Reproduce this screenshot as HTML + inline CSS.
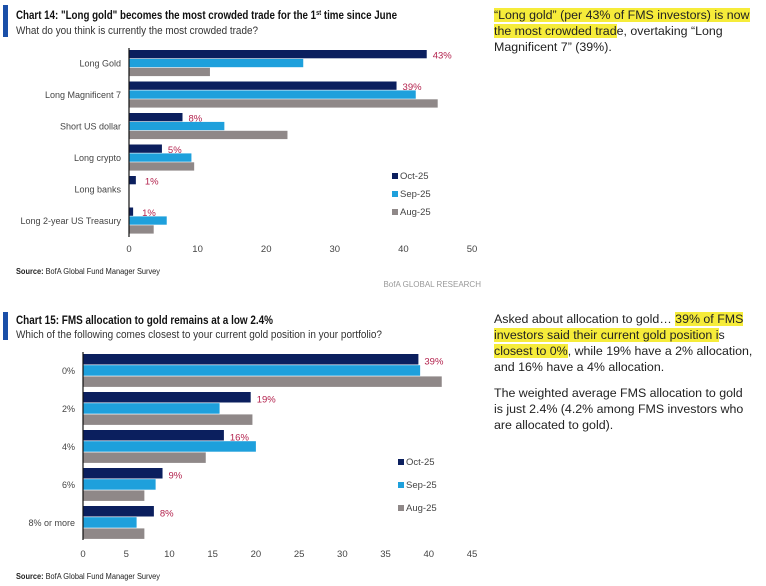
<!DOCTYPE html>
<html><head><meta charset="utf-8"><style>
body{margin:0;width:766px;height:586px;background:#fff;font-family:"Liberation Sans",sans-serif;overflow:hidden;position:relative}
.t{position:absolute;left:494px;width:262px;font-size:12.4px;line-height:16px;color:#222}
.t p{margin:0 0 10px 0}
.hl{background:#f6ec3a}
</style></head><body>
<svg id="svg" width="766" height="586" style="position:absolute;left:0;top:0">
<rect x="3" y="5" width="5" height="32" fill="#1a4fa8"/>
<text x="16" y="19" font-size="12" font-weight="bold" fill="#111" textLength="381" lengthAdjust="spacingAndGlyphs">Chart 14: "Long gold" becomes the most crowded trade for the 1<tspan font-size="7" dy="-4">st</tspan><tspan dy="4"> time since June</tspan></text>
<text x="16" y="34" font-size="11" fill="#333" textLength="242" lengthAdjust="spacingAndGlyphs">What do you think is currently the most crowded trade?</text>
<text x="16" y="274" font-size="8" fill="#222" textLength="144" lengthAdjust="spacingAndGlyphs"><tspan font-weight="bold">Source:</tspan> BofA Global Fund Manager Survey</text>
<text x="481" y="287" font-size="8" fill="#999" text-anchor="end">BofA GLOBAL RESEARCH</text>
<rect x="3" y="312" width="5" height="28" fill="#1a4fa8"/>
<text x="16" y="324" font-size="12" font-weight="bold" fill="#111" textLength="257" lengthAdjust="spacingAndGlyphs">Chart 15: FMS allocation to gold remains at a low 2.4%</text>
<text x="16" y="338" font-size="11" fill="#333" textLength="366" lengthAdjust="spacingAndGlyphs">Which of the following comes closest to your current gold position in your portfolio?</text>
<text x="16" y="579" font-size="8" fill="#222" textLength="144" lengthAdjust="spacingAndGlyphs"><tspan font-weight="bold">Source:</tspan> BofA Global Fund Manager Survey</text>
</svg>
<div class="t" style="top:7px"><p><span class="hl">“Long gold” (per 43% of FMS investors) is now the most crowded trad</span>e, overtaking “Long Magnificent 7” (39%).</p></div>
<div class="t" style="top:311px"><p>Asked about allocation to gold… <span class="hl">39% of FMS investors said their current gold position i</span>s <span class="hl">closest to 0%</span>, while 19% have a 2% allocation, and 16% have a 4% allocation.</p><p>The weighted average FMS allocation to gold<br>is just 2.4% (4.2% among FMS investors who are allocated to gold).</p></div>
<script>
const c14Cats=["Long Gold","Long Magnificent 7","Short US dollar","Long crypto","Long banks","Long 2-year US Treasury"];
const c14Oct=[43.4,39,7.8,4.8,1,0.6];
const c14Sep=[25.4,41.8,13.9,9.1,0,5.5];
const c14Aug=[11.8,45,23.1,9.5,0,3.6];
const c14Labels=["43%","39%","8%","5%","1%","1%"];
const c14Ticks=[0,10,20,30,40,50];
const c15Cats=["0%","2%","4%","6%","8% or more"];
const c15Oct=[38.8,19.4,16.3,9.2,8.2];
const c15Sep=[39,15.8,20,8.4,6.2];
const c15Aug=[41.5,19.6,14.2,7.1,7.1];
const c15Labels=["39%","19%","16%","9%","8%"];
const c15Ticks=[0,5,10,15,20,25,30,35,40,45];
const seriesNames=["Oct-25","Sep-25","Aug-25"];
const colors=["#0b1f5e","#1ea0dc","#8f8888"];
const svg=document.getElementById('svg');
const NS="http://www.w3.org/2000/svg";
function mk(tag,attrs,txt){const e=document.createElementNS(NS,tag);for(const k in attrs)e.setAttribute(k,attrs[k]);if(txt!==undefined)e.textContent=txt;svg.appendChild(e);return e;}
function chart(o){
  const xs=v=>o.x0+(v-o.tmin)*(o.x1-o.x0)/(o.tmax-o.tmin);
  const series=[o.oct,o.sep,o.aug];
  o.cats.forEach((cat,i)=>{
    const gy=o.top+i*o.step;
    const l=mk('text',{x:o.x0-8,y:gy+o.bh*1.5+4,'font-size':o.fs,fill:'#444','text-anchor':'end'},cat);
    
    
    series.forEach((s,j)=>{
      const r=mk('rect',{x:xs(0),y:gy+j*(o.bh+o.gap),width:Math.max(0,xs(s[i])-xs(0)),height:o.bh,fill:colors[j]});
      
      
    });
    const v=mk('text',{x:xs(o.oct[i])+(o.oct[i]<3?9:6),y:gy+o.bh,'font-size':9.5,fill:'#b3224d'},o.labels[i]);
    
    
  });
  const ax=mk('line',{x1:o.x0,x2:o.x0,y1:o.top-2,y2:o.axisBottom,stroke:'#111','stroke-width':1.2});
  
  
  o.ticks.forEach(t=>{
    const e=mk('text',{x:xs(t),y:o.tickY,'font-size':9.5,fill:'#444','text-anchor':'middle'},t);
    
    
  });
  seriesNames.forEach((n,j)=>{
    const y=o.legY+j*o.legStep;
    const r=mk('rect',{x:o.legX,y:y-6,width:6,height:6,fill:colors[j]});
    
    
    const e=mk('text',{x:o.legX+8,y:y,'font-size':9.5,fill:'#444'},n);
    
    
  });
}
chart({cats:c14Cats,oct:c14Oct,sep:c14Sep,aug:c14Aug,labels:c14Labels,ticks:c14Ticks,tmin:0,tmax:50,x0:129,x1:472,top:50,step:31.5,bh:8.3,gap:0.6,axisBottom:237,tickY:252,fs:9,legX:392,legY:179,legStep:18});
chart({cats:c15Cats,oct:c15Oct,sep:c15Sep,aug:c15Aug,labels:c15Labels,ticks:c15Ticks,tmin:0,tmax:45,x0:83,x1:472,top:354,step:38,bh:10.5,gap:0.7,axisBottom:540,tickY:557,fs:9,legX:398,legY:465,legStep:23});
</script>
</body></html>
